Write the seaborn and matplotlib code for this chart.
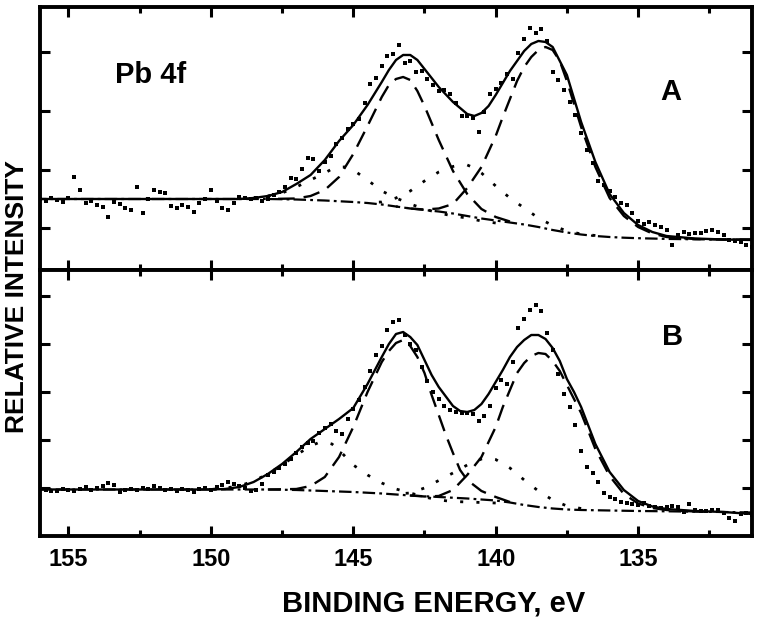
import numpy as np
import matplotlib
matplotlib.use("Agg")
import matplotlib.pyplot as plt
import seaborn as sns

sns.set_theme(style="ticks")
plt.rcParams["font.family"] = ["Liberation Sans", "DejaVu Sans"]
plt.rcParams["font.weight"] = "bold"
plt.rcParams["lines.scale_dashes"] = False
for key in ["text.color", "axes.labelcolor", "xtick.color", "ytick.color", "axes.edgecolor"]:
    plt.rcParams[key] = "black"

# measured spectra, binding energy in 0.2 eV steps (156 -> 131 eV)
be_scan = np.round(np.linspace(156.0, 131.0, 126), 1)

counts_a = [
    88, 86, 89, 87, 85, 89, 110, 97, 84, 86,
    82, 80, 70, 85, 83, 79, 77, 100, 74, 88,
    97, 95, 94, 81, 79, 82, 80, 75, 84, 88,
    97, 86, 79, 77, 84, 90, 89, 88, 89,
    86, 88, 92, 95, 100, 109, 108, 118, 129, 128,
    116, 125, 131, 143, 149, 158, 163, 168, 184, 203,
    209, 221, 231, 233, 242, 224, 226, 215,
    216, 208, 202, 196, 197, 193, 184, 171, 171, 169,
    155, 175, 193, 198, 204, 213, 208, 234, 248, 259,
    254, 258, 246, 215, 207, 197, 185, 172,
    154, 137, 124, 106, 102, 96, 90, 84, 82, 74,
    66, 63, 65, 62, 60, 57, 42, 52, 55, 53,
    54, 54, 56, 57, 55, 52, 47, 46, 45, 42, 40,
]

counts_b = [
    48, 47, 46, 46, 48, 47, 46, 48, 50, 47,
    49, 51, 54, 52, 45, 47, 48, 47, 49, 48,
    51, 49, 47, 48, 46, 48, 47, 45, 48, 49,
    47, 50, 52, 55, 53, 51, 49, 46, 47,
    53, 62, 65, 69, 73, 78, 84, 90, 94, 96,
    104, 109, 113, 106, 103, 118, 128, 137, 150, 166,
    182, 191, 207, 215, 217, 202, 193, 187,
    170, 156, 145, 138, 131, 127, 125, 124, 124, 123,
    116, 121, 131, 149, 157, 153, 175, 209, 218, 227,
    232, 226, 204, 187, 163, 143, 130, 112,
    86, 70, 64, 55, 44, 40, 38, 35, 34, 33,
    32, 34, 31, 30, 29, 30, 31, 30, 25, 33,
    27, 26, 26, 27, 27, 24, 19, 16, 23, 24, 22,
]

# fitted curves, panel A
bg_a_x = [156, 148, 147, 146, 145, 144.5, 144, 143.5, 143, 142.5, 142, 141.5, 141,
          140.5, 140, 139.5, 139, 138.5, 138, 137.5, 137, 136.5, 136, 135.5, 135,
          134, 133, 132, 131]
bg_a_y = [88, 88, 87.5, 86.5, 85, 84, 82.5, 80.5, 78.5, 77, 75.5, 73.5, 71,
          68.5, 66.5, 64.5, 62.5, 60, 57, 54.5, 52.5, 51, 50, 49.3, 48.8,
          48.1, 47.7, 47.5, 47.5]

fit_a_x = [156, 149, 148.5, 148, 147.5, 147, 146.5, 146, 145.5, 145, 144.5, 144,
           143.75, 143.5, 143.25, 143, 142.75, 142.5, 142, 141.5, 141, 140.75,
           140.5, 140.25, 140, 139.5, 139, 138.75, 138.5, 138.25, 138, 137.5, 137,
           136.5, 136, 135.5, 135, 134.5, 134, 133, 132, 131]
fit_a_y = [88, 88, 89, 91, 95, 103, 112, 127, 146, 162, 182, 205,
           217, 227, 232, 232, 227, 218, 200, 185, 173, 171,
           174, 181, 192, 216, 236, 243, 246, 245, 240, 212, 165,
           125, 93, 74, 62, 55, 51, 48.5, 47.5, 47]

pk1_a_x = [148, 147, 146.5, 146, 145.5, 145, 144.5, 144, 143.75, 143.5, 143.25,
           143, 142.75, 142.5, 142, 141.5, 141, 140.5, 140, 139.5]
pk1_a_y = [88, 88.5, 91, 97, 110, 133, 161, 190, 202, 208, 210,
           207, 196, 181, 147, 116, 93, 78, 70, 65.5]

pk2_a_x = [143.5, 143, 142.5, 142, 141.5, 141, 140.5, 140, 139.75, 139.5, 139.25,
           139, 138.75, 138.5, 138.25, 138, 137.75, 137.5, 137.25, 137, 136.5,
           136, 135.5, 135, 134.5, 134, 133, 132, 131]
pk2_a_y = [80.5, 78.5, 77.5, 78.5, 83, 99, 120, 151, 170, 188, 206,
           220, 230, 237, 240, 237, 226, 206, 183, 160, 120,
           89, 71, 60, 53.5, 50, 48, 47.5, 47.5]

sat1_a_x = [148.5, 148, 147.5, 147, 146.5, 146, 145.75, 145.5, 145.25, 145, 144.5,
            144, 143.5, 143, 142.5, 142, 141.5, 141, 140.5, 140]
sat1_a_y = [89, 91, 94, 100, 107, 114, 118, 120, 120, 117, 107,
            96, 89, 83, 78, 74, 71, 69, 66, 64]

sat2_a_x = [144.5, 144, 143.5, 143, 142.5, 142, 141.5, 141.25, 141, 140.75, 140.5,
            140, 139.5, 139, 138.5, 138, 137.5, 137, 136.5]
sat2_a_y = [84.5, 85, 89, 96, 106, 115, 120.5, 122, 122, 119, 114,
            101, 89, 79, 69, 61.5, 56, 53, 51.5]

# fitted curves, panel B
bg_b_x = [156, 148, 147, 146, 145, 144, 143, 142, 141, 140, 139.5, 139, 138.5,
          138, 137.5, 137, 136, 135, 134, 133, 132, 131]
bg_b_y = [47.5, 47.5, 47, 46, 45, 43.5, 41.5, 40, 38.5, 36.5, 34.5, 32, 30,
          28.5, 27.5, 27, 26.5, 26, 25.7, 25.3, 25, 24.5]

fit_b_x = [156, 150, 149.5, 149, 148.5, 148, 147.5, 147, 146.5, 146, 145.5, 145,
           144.5, 144, 143.75, 143.5, 143.25, 143, 142.75, 142.5, 142.25, 142,
           141.5, 141.25, 141, 140.75, 140.5, 140.25, 140, 139.75, 139.5, 139.25,
           139, 138.75, 138.5, 138.25, 138, 137.75, 137.5, 137.25, 137, 136.5,
           136, 135.5, 135, 134.5, 134, 133, 132, 131]
fit_b_y = [47.5, 47.5, 48, 50, 55, 63, 73, 85, 98, 108, 118, 129,
           153, 180, 193, 203, 205, 200, 192, 177, 162, 150,
           131, 126, 125, 127, 133, 143, 155, 167, 180, 190,
           197, 202, 202, 198, 189, 176, 158, 145, 130, 93,
           65, 47, 36, 30.5, 28, 26, 25, 23]

pk1_b_x = [148, 147, 146.5, 146, 145.5, 145, 144.5, 144, 143.75, 143.5, 143.25,
           143, 142.75, 142.5, 142.25, 142, 141.75, 141.5, 141.25, 141, 140.5,
           140, 139.5]
pk1_b_y = [47.5, 48, 51, 60, 80, 110, 145, 175, 186, 194, 197,
           191, 180, 164, 142, 122, 102, 84, 67, 57, 46,
           40, 35]

pk2_b_x = [143, 142.5, 142, 141.5, 141, 140.5, 140, 139.75, 139.5, 139.25, 139,
           138.75, 138.5, 138.25, 138, 137.75, 137.5, 137.25, 137, 136.5, 136,
           135.5, 135, 134.5, 134, 133]
pk2_b_y = [41.5, 40.5, 41, 47, 62, 80, 110, 130, 147, 164, 174,
           181, 184, 183, 176, 166, 152, 138, 124, 88, 61,
           43, 33.5, 29, 27, 25.5]

sat1_b_x = [150, 149.5, 149, 148.5, 148, 147.5, 147, 146.5, 146.25, 146, 145.75,
            145.5, 145, 144.5, 144, 143.5, 143, 142.5, 142, 141.5, 141, 140.5, 140]
sat1_b_y = [47.5, 49, 51, 56, 63, 72, 82, 91, 94, 95, 93,
            87, 72, 62, 54, 48, 44, 40, 37, 35.5, 35, 34.5, 34]

sat2_b_x = [143.5, 143, 142.5, 142, 141.5, 141, 140.5, 140.25, 140, 139.5, 139,
            138.5, 138, 137.5, 137]
sat2_b_y = [43, 44, 49, 56.5, 64, 72, 78, 79, 77.5, 69, 57,
            46, 37, 31, 28.5]

major_be = [155, 150, 145, 140, 135]
minor_be = [152.5, 147.5, 142.5, 137.5, 132.5]
ticks_a = [58.7, 117.4, 176.1, 234.8]
ticks_b = [48.7, 96.8, 145.0, 193.1, 241.3]

dash_long = (0, (12, 6.5))
dots = (0, (2.2, 9.5))
dash_dot = (0, (9, 3, 2, 3))

fig = plt.figure(figsize=(7.62, 6.18), dpi=100)
ax_a = fig.add_axes([0.0525, 0.5631, 0.9344, 0.4248])
ax_b = fig.add_axes([0.0525, 0.1327, 0.9344, 0.4304])

panels = [
    (ax_a, counts_a, (bg_a_x, bg_a_y), (fit_a_x, fit_a_y), [(pk1_a_x, pk1_a_y), (pk2_a_x, pk2_a_y)],
     [(sat1_a_x, sat1_a_y), (sat2_a_x, sat2_a_y)], (17, 279.5), ticks_a),
    (ax_b, counts_b, (bg_b_x, bg_b_y), (fit_b_x, fit_b_y), [(pk1_b_x, pk1_b_y), (pk2_b_x, pk2_b_y)],
     [(sat1_b_x, sat1_b_y), (sat2_b_x, sat2_b_y)], (1, 267), ticks_b),
]

for ax, counts, bg, fit, peaks, sats, ylim, yt in panels:
    sns.scatterplot(x=be_scan, y=counts, ax=ax, marker="s", s=9, color="black",
                    linewidth=0, zorder=2)
    sns.lineplot(x=bg[0], y=bg[1], ax=ax, color="black", lw=1.6, linestyle=dash_dot, zorder=3)
    for px, py in peaks:
        sns.lineplot(x=px, y=py, ax=ax, color="black", lw=1.7, linestyle=dash_long, zorder=3)
    for px, py in sats:
        sns.lineplot(x=px, y=py, ax=ax, color="black", lw=2.0, linestyle=dots, zorder=3)
    sns.lineplot(x=fit[0], y=fit[1], ax=ax, color="black", lw=1.7, zorder=4)

    ax.set_xlim(156, 131)
    ax.set_ylim(*ylim)
    ax.set_xticks(major_be)
    ax.set_xticks(minor_be, minor=True)
    ax.set_yticks(yt)
    ax.set_xlabel("")
    ax.set_ylabel("")
    for sp in ax.spines.values():
        sp.set_visible(True)
        sp.set_linewidth(2.8)
        sp.set_color("black")
    ax.tick_params(axis="both", which="major", direction="in", length=7.5, width=2.2,
                   top=True, right=True, labelleft=False, labelsize=17, pad=9)
    ax.tick_params(axis="x", which="minor", direction="in", length=4.5, width=2.2,
                   top=True, bottom=True)

ax_a.tick_params(axis="x", labelbottom=False)
for lab in ax_b.get_xticklabels():
    lab.set_fontweight("bold")

ax_a.text(0.105, 0.744, "Pb 4f", transform=ax_a.transAxes, ha="left", va="center",
          fontsize=21, fontweight="bold")
ax_a.text(0.886, 0.679, "A", transform=ax_a.transAxes, ha="center", va="center",
          fontsize=21, fontweight="bold")
ax_b.text(0.888, 0.748, "B", transform=ax_b.transAxes, ha="center", va="center",
          fontsize=21, fontweight="bold")

fig.text(434 / 762, 1 - 603 / 618, "BINDING ENERGY, eV", ha="center", va="center",
         fontsize=21, fontweight="bold")
fig.text(17 / 762, 1 - 297 / 618, "RELATIVE INTENSITY", ha="center", va="center",
         rotation=90, fontsize=19, fontweight="bold")

fig.savefig("out.png", dpi=100)
